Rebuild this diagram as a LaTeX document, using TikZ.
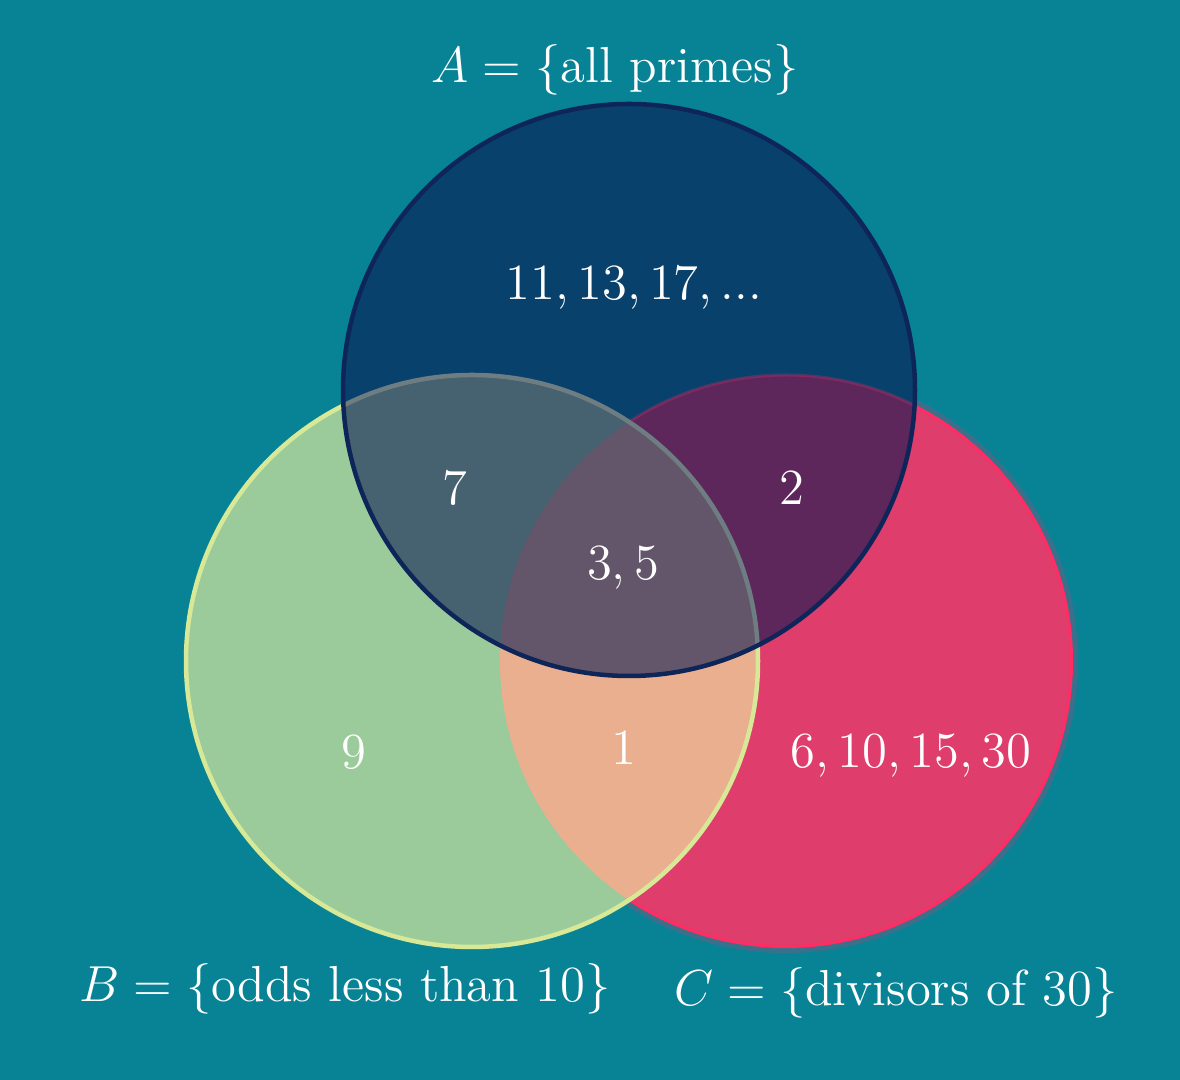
\documentclass[tikz,border=0pt]{standalone}
\usepackage{amsmath}
\usepackage{amssymb}
\usepackage{tikz}
\usepackage{xcolor}

\definecolor{bgteal}{HTML}{088395}
\definecolor{afill}{HTML}{08416C}
\definecolor{aedge}{HTML}{0E255A}
\definecolor{bfill}{HTML}{9BCB9B}
\definecolor{bedge}{HTML}{D7E896}
\definecolor{bedgeshade}{HTML}{6E7D82}
\definecolor{cfill}{HTML}{DF3D6C}
\definecolor{cedge}{HTML}{FF2D64}
\definecolor{chalo}{HTML}{3C708A}
\definecolor{abfill}{HTML}{466170}
\definecolor{acfill}{HTML}{5D275B}
\definecolor{bcfill}{HTML}{E9AF8E}
\definecolor{abcfill}{HTML}{64566A}

\begin{document}
\begin{tikzpicture}[setlabel/.style={text=white, font=\Large, anchor=base, inner sep=0pt}]
        \useasboundingbox (0.0, 0.0) rectangle (11.8, 10.8);
        \fill [bgteal] (0.0, 0.0) rectangle (11.8, 10.8); % background
        \coordinate (a) at (6.29, 6.90); % centre of A
        \coordinate (b) at (4.72, 4.19); % centre of B
        \coordinate (c) at (7.86, 4.19); % centre of C

        \fill [cfill] (c) circle (2.86); % C
        \draw [chalo, line width=0.06cm] (c) circle (2.89); % C, halo
        \draw [cedge, line width=0.03cm] (c) circle (2.855); % C, edge

        \fill [bfill] (b) circle (2.86); % B
        \begin{scope}
            \clip (c) circle (2.86);
            \fill [bcfill] (b) circle (2.86); % B and C
        \end{scope}
        \draw [bedge, line width=0.045cm] (b) circle (2.86); % B, edge

        \begin{scope}
            \clip (a) circle (2.86);
            \fill [afill] (a) circle (2.86); % A
            \fill [acfill] (c) circle (2.86); % A and C
            \draw [cedge, line width=0.03cm, opacity=0.25] (c) circle (2.86); % C, edge under A
            \fill [abfill] (b) circle (2.86); % A and B
            \begin{scope}
                \clip (b) circle (2.86);
                \fill [abcfill] (c) circle (2.86); % A, B and C
            \end{scope}
            \draw [bedgeshade, line width=0.045cm] (b) circle (2.86); % B, edge under A
        \end{scope}
        \draw [aedge, line width=0.045cm] (a) circle (2.86); % A, edge

        \node [setlabel] (labela) at (6.15, 9.97) {$A = \{\text{all primes}\}$};
        \node [setlabel] (labelb) at (3.45, 0.78) {$B = \{\text{odds less than 10}\}$};
        \node [setlabel] (labelc) at (8.96, 0.74) {$C = \{\text{divisors of 30}\}$};

        \node [setlabel] (onlya) at (6.34, 7.80) {$11, 13, 17, ...$};
        \node [setlabel] (onlyb) at (3.54, 3.11) {$9$};
        \node [setlabel] (onlyc) at (9.11, 3.12) {$6, 10, 15, 30$};
        \node [setlabel] (ab) at (4.55, 5.75) {$7$};
        \node [setlabel] (ac) at (7.92, 5.75) {$2$};
        \node [setlabel] (bc) at (6.24, 3.15) {$1$};
        \node [setlabel] (abc) at (6.23, 5.00) {$3, 5$};
    \end{tikzpicture}
\end{document}
